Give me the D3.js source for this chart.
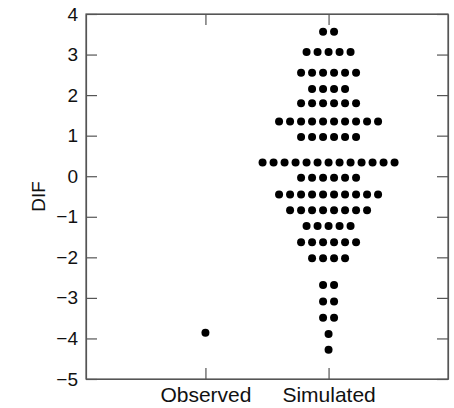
<!DOCTYPE html>
<html>
<head>
	<title>DIF</title>
	<meta charset="UTF-8">
	<style>
		body { margin: 0; background: #fff; }
		text { font-family: "Liberation Sans", Arial, sans-serif; fill: #111; }
		.axis path, .axis line { stroke: #555; stroke-width: 1.2; }
	</style>
</head>
<body>
</body>
<script src="https://d3js.org/d3.v7.min.js"></script>
<script type="text/javascript">

'use strict';

// categories on the x axis
var categories = ["Observed", "Simulated"];
// observed DIF value
var observed = [-3.86];
// simulated DIF values, one entry per row of dots, and how many dots in that row
var simValues = [3.56, 3.06, 2.55, 2.15, 1.80, 1.35, 0.97, 0.34, -0.04, -0.45, -0.84, -1.23, -1.63, -2.02, -2.68, -3.09, -3.49, -3.89, -4.28];
var simCounts = [2, 5, 6, 4, 6, 10, 6, 13, 6, 10, 8, 5, 6, 4, 2, 2, 2, 1, 1];
var yTicks = [-5, -4, -3, -2, -1, 0, 1, 2, 3, 4];

var svg = d3.select("body").append("svg")
	.attr("width", 454)
	.attr("height", 408);

var margin = {top: 14, right: 6, bottom: 29, left: 86};
var width = 454 - margin.left - margin.right;
var height = 408 - margin.top - margin.bottom;

var g = svg.append("g")
	.attr("transform", "translate(" + margin.left + "," + margin.top + ")");

var x = d3.scalePoint()
	.domain(categories)
	.range([0, width])
	.padding(0.97);

var y = d3.scaleLinear()
	.domain([-5, 4])
	.range([height, 0]);

var spacing = 11;

// frame
g.append("rect")
	.attr("width", width)
	.attr("height", height)
	.attr("fill", "none")
	.attr("stroke", "#555")
	.attr("stroke-width", 1.2);

g.append("g")
	.attr("class", "axis")
	.call(d3.axisLeft(y).tickValues(yTicks).tickSize(-11).tickSizeOuter(0).tickPadding(8))
	.call(function(a){ a.selectAll("text").attr("font-size", 19).attr("font-family", null); });

g.append("g")
	.attr("class", "axis")
	.attr("transform", "translate(" + width + ",0)")
	.call(d3.axisRight(y).tickValues(yTicks).tickSize(-11).tickSizeOuter(0).tickFormat(""));

g.append("g")
	.attr("class", "axis")
	.attr("transform", "translate(0," + height + ")")
	.call(d3.axisBottom(x).tickSize(-11).tickSizeOuter(0).tickPadding(8))
	.call(function(a){ a.selectAll("text").attr("font-size", 21).attr("font-family", null); });

g.append("g")
	.attr("class", "axis")
	.call(d3.axisTop(x).tickSize(-11).tickSizeOuter(0).tickFormat(""));

g.selectAll(".axis text").style("fill", "#111");

svg.append("text")
	.attr("transform", "translate(45," + (margin.top + height / 2) + ") rotate(-90)")
	.attr("text-anchor", "middle")
	.attr("font-size", 19)
	.text("DIF");

// expand the simulated rows into single dots
var simDots = [];
simValues.forEach(function(v, r){
	var n = simCounts[r];
	for (var i = 0; i < n; i++) {
		simDots.push({value: v, offset: (i - (n - 1) / 2) * spacing});
	}
});

g.selectAll(".sim")
	.data(simDots)
	.enter().append("circle")
		.attr("class", "sim")
		.attr("cx", function(d){ return x("Simulated") + d.offset; })
		.attr("cy", function(d){ return y(d.value); })
		.attr("r", 4)
		.attr("fill", "#000");

g.selectAll(".obs")
	.data(observed)
	.enter().append("circle")
		.attr("class", "obs")
		.attr("cx", x("Observed"))
		.attr("cy", function(d){ return y(d); })
		.attr("r", 4)
		.attr("fill", "#000");

</script>
</html>
